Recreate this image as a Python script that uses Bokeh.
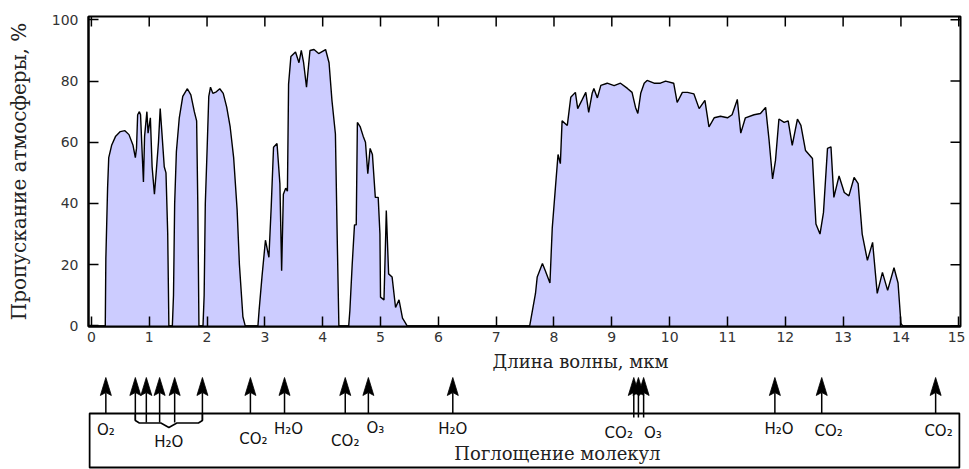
from bokeh.plotting import figure
from bokeh.models import Range1d, FixedTicker
from bokeh.layouts import column
from bokeh.embed import file_html
from bokeh.resources import INLINE
from bokeh.core.properties import value

# ---------------- data ----------------
wavelength = [
    0.00, 0.24, 0.25, 0.28, 0.30, 0.35, 0.42, 0.50, 0.58, 0.65, 0.72, 0.76, 0.78, 0.80, 0.83,
    0.85, 0.87, 0.90, 0.92, 0.96, 0.98, 1.02, 1.05, 1.09, 1.12, 1.16, 1.19, 1.22, 1.26, 1.29,
    1.32, 1.34,
    1.40, 1.42, 1.44, 1.47, 1.52, 1.58, 1.66, 1.72, 1.78, 1.82, 1.84, 1.86,
    1.93, 1.95, 1.97, 2.00, 2.03, 2.06, 2.10, 2.16, 2.22, 2.28, 2.34, 2.40, 2.46, 2.52, 2.56,
    2.62, 2.66,
    2.88, 2.90, 2.95, 3.01, 3.07, 3.11, 3.15, 3.21, 3.26, 3.29, 3.32, 3.36, 3.39, 3.41, 3.45,
    3.53, 3.59, 3.63, 3.67, 3.72, 3.78, 3.85, 3.93, 4.05, 4.11, 4.16, 4.22, 4.25, 4.28,
    4.45, 4.47, 4.51, 4.55, 4.58, 4.60, 4.65, 4.70, 4.74, 4.78, 4.82, 4.86, 4.91, 4.96, 4.99,
    5.00, 5.06, 5.09, 5.10, 5.14, 5.20, 5.26, 5.32, 5.38, 5.43, 5.46,
    7.58, 7.68, 7.71, 7.80, 7.85, 7.93, 7.97, 8.03, 8.07, 8.11, 8.14, 8.23, 8.29, 8.37, 8.41,
    8.49, 8.55, 8.60, 8.66, 8.69, 8.75, 8.81, 8.92, 9.04, 9.15, 9.27, 9.35, 9.41, 9.45, 9.50,
    9.56, 9.61, 9.73, 9.84, 9.93, 10.07, 10.13, 10.22, 10.31, 10.42, 10.51, 10.61, 10.68, 10.77,
    10.88, 11.00, 11.08, 11.17, 11.23, 11.31, 11.46, 11.57, 11.66, 11.72, 11.78, 11.83, 11.89,
    11.98, 12.05, 12.12, 12.21, 12.27, 12.35, 12.47, 12.53, 12.60, 12.66, 12.73, 12.79, 12.84,
    12.93, 13.02, 13.10, 13.19, 13.26, 13.33, 13.42, 13.51, 13.59, 13.68, 13.77, 13.88, 13.95,
    14.00, 14.03, 15.03,
]
transmission = [
    0, 0, 22, 45, 55, 59, 62, 63.5, 63.8, 62.5, 59, 55, 58, 69, 70,
    69, 60, 47, 62, 70, 63, 68, 52, 43, 50, 60, 71, 63, 52, 50,
    30, 0,
    0, 10, 40, 57, 68, 75, 77.5, 75.5, 70, 67, 40, 0,
    0, 10, 40, 57, 75, 78, 76, 76.5, 77.5, 76, 71.5, 65, 55, 38, 20,
    3, 0,
    0, 5, 16, 28, 22.4, 39, 58.4, 59.6, 46.4, 18, 43, 45, 44, 79, 88,
    89.5, 86, 90, 86, 78, 90, 90.3, 89, 90.3, 86, 73.7, 62.7, 30, 0,
    0, 5, 20, 33, 33, 66.5, 65, 62, 60, 49.7, 58, 56, 42, 42, 30,
    9.4, 8.5, 30, 37.7, 17, 16, 6, 8.5, 2.5, 1, 0,
    0, 10.6, 16, 20.4, 18, 14, 32, 46.5, 56, 53, 67, 65.5, 74.7, 76.3, 71,
    74, 76.3, 69.8, 76, 77.6, 74.5, 78.6, 79.3, 78.5, 79.3, 77.6, 76.3, 71.4, 69.4, 76,
    79.3, 80.2, 79.3, 79.3, 80, 79.3, 73, 76.3, 76.3, 75.8, 71, 73.7, 65, 68,
    68.5, 68, 69, 74, 63, 68, 69, 69.4, 71.4, 60.6, 48, 54, 67.6,
    66.5, 67, 59, 67.6, 65.5, 57.3, 54.7, 33.3, 30, 37, 58, 58.5, 42,
    49, 43.6, 42.5, 48.5, 46.5, 30, 21.4, 27.3, 10.6, 17.5, 11.6, 19, 14,
    0.8, 0, 0,
]

x_ticks = list(range(0, 16))
y_ticks = [0, 20, 40, 60, 80, 100]

# absorption arrows (wavelength, um)
absorb_wl = [0.25, 0.76, 0.95, 1.18, 1.44, 1.92, 2.75, 3.34, 4.39, 4.79, 6.25,
             9.38, 9.46, 9.55, 11.82, 12.63, 14.60]
h2o_group = [0.76, 0.95, 1.18, 1.44, 1.92]
triple_group = [9.38, 9.46, 9.55]

label_text = ["O₂", "H₂O", "CO₂", "H₂O", "CO₂", "O₃", "H₂O", "CO₂", "O₃", "H₂O", "CO₂", "CO₂"]
label_wl = [0.25, 1.34, 2.80, 3.41, 4.39, 4.91, 6.25, 9.12, 9.71, 11.89, 12.75, 14.65]

x_title = "Длина волны, мкм"
y_title = "Пропускание атмосферы, %"
box_title = "Поглощение молекул"

# ---------------- layout (pixels) ----------------
label_y = [79, 91, 88, 78, 90, 77, 78, 82, 82, 78, 80, 80]
FILL = "#ccccff"
serif = "DejaVu Serif"
sans = "DejaVu Sans"

FRAME_W, FRAME_H = 872, 310
xr = Range1d(-0.05, 15.03)
yr = Range1d(-0.2, 101.1)
ppx = FRAME_W / (xr.end - xr.start)
ppy = FRAME_H / (yr.end - yr.start)
TICK = 10

# ---------------- top chart ----------------
p = figure(frame_width=FRAME_W, frame_height=FRAME_H, x_range=xr, y_range=yr,
           output_backend="svg", toolbar_location=None,
           min_border_left=88, min_border_right=5, min_border_top=16, min_border_bottom=24)
p.grid.visible = False
p.outline_line_color = "black"
p.outline_line_width = 2
p.background_fill_color = "white"
p.border_fill_color = "white"

p.varea(x=wavelength, y1=0, y2=transmission, fill_color=FILL)
p.line(wavelength, transmission, line_color="black", line_width=1.4)

p.xaxis.ticker = FixedTicker(ticks=x_ticks)
p.yaxis.ticker = FixedTicker(ticks=y_ticks)
for ax in (p.xaxis[0], p.yaxis[0]):
    ax.major_tick_in = TICK
    ax.major_tick_out = 0
    ax.minor_tick_in = 0
    ax.minor_tick_out = 0
    ax.major_tick_line_width = 1.5
    ax.axis_line_width = 2
    ax.major_label_text_font = sans
    ax.major_label_text_font_size = "14px"
    ax.major_label_text_color = "#333333"

p.xaxis.major_label_standoff = 5
p.yaxis.major_label_standoff = 10
p.yaxis.axis_label = y_title
p.yaxis.axis_label_text_font = serif
p.yaxis.axis_label_text_font_size = "20px"
p.yaxis.axis_label_text_font_style = "normal"
p.yaxis.axis_label_text_color = "#222222"
p.yaxis.axis_label_standoff = 18

# mirrored inner ticks on the top and right edges
p.segment(x0=x_ticks, y0=[yr.end] * len(x_ticks), x1=x_ticks,
          y1=[yr.end - TICK / ppy] * len(x_ticks), line_color="black", line_width=1.5)
p.segment(x0=[xr.end] * len(y_ticks), y0=y_ticks, x1=[xr.end - TICK / ppx] * len(y_ticks),
          y1=y_ticks, line_color="black", line_width=1.5)

# ---------------- bottom panel (absorption) ----------------
H2 = 119
q = figure(frame_width=FRAME_W, frame_height=H2, x_range=xr, y_range=Range1d(H2, 0),
           output_backend="svg", toolbar_location=None,
           x_axis_location=None, y_axis_location=None,
           min_border_left=88, min_border_right=5, min_border_top=0, min_border_bottom=0)
q.grid.visible = False
q.outline_line_color = None
q.background_fill_color = "white"
q.border_fill_color = "white"

BOX_TOP, BOX_BOTTOM = 63, 117
TIP_Y, HEAD_BASE, NOTCH = 27, 45, 42
inset = 1.0 / ppx
q.quad(left=xr.start + inset, right=xr.end - inset, top=BOX_TOP, bottom=BOX_BOTTOM,
       fill_color=None, line_color="black", line_width=2)

shaft_end = []
for w in absorb_wl:
    if w in h2o_group:
        shaft_end.append(72 if w not in (min(h2o_group), max(h2o_group)) else 70)
    elif w in triple_group:
        shaft_end.append(67)
    else:
        shaft_end.append(BOX_TOP)
q.segment(x0=absorb_wl, y0=shaft_end, x1=absorb_wl, y1=[NOTCH] * len(absorb_wl),
          line_color="black", line_width=1.5)

hw = 5.5 / ppx
q.patches(xs=[[w - hw, w, w + hw, w] for w in absorb_wl],
          ys=[[HEAD_BASE, TIP_Y, HEAD_BASE, NOTCH] for _ in absorb_wl],
          fill_color="black", line_color="black", line_width=0.8)

# brace under the H2O group
g0, g1 = min(h2o_group), max(h2o_group)
gc = (g0 + g1) / 2
c = 4.0 / ppx
q.line(x=[g0, g0, g0 + c, gc - 2 * c, gc, gc + 2 * c, g1 - c, g1, g1],
       y=[BOX_TOP, 70, 72.5, 72.5, 77, 72.5, 72.5, 70, BOX_TOP],
       line_color="black", line_width=1.5)

q.text(x=label_wl, y=label_y, text=label_text, text_align="center", text_baseline="middle",
       text_font=value(sans), text_font_size="15px", text_color="#111111")

q.text(x=[8.46], y=[11], text=[x_title], text_align="center", text_baseline="middle",
       text_font=value(serif), text_font_size="18px", text_color="#222222")
q.text(x=[8.06], y=[103], text=[box_title], text_align="center", text_baseline="middle",
       text_font=value(serif), text_font_size="18px", text_color="#222222")

layout = column(p, q, spacing=0)
open("out.html", "w").write(file_html(layout, INLINE))
